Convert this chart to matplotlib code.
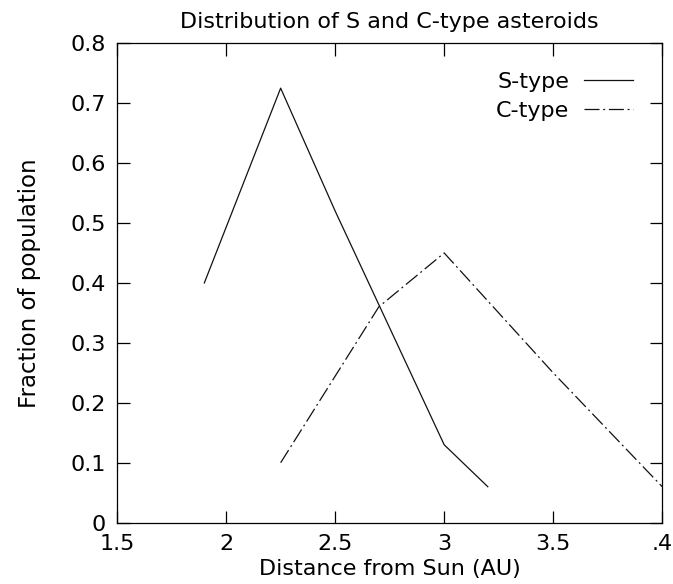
import matplotlib
matplotlib.use('Agg')
import matplotlib.pyplot as plt

# values
s_dist = [1.9, 2.25, 2.5, 3.0, 3.2]
s_frac = [0.40, 0.725, 0.52, 0.13, 0.06]
c_dist = [2.25, 2.7, 3.0, 3.5, 4.0]
c_frac = [0.10, 0.36, 0.45, 0.25, 0.06]

x_ticks = [1.5, 2, 2.5, 3, 3.5, 4]
x_labels = ['1.5', '2', '2.5', '3', '3.5', '.4']
y_ticks = [0, 0.1, 0.2, 0.3, 0.4, 0.5, 0.6, 0.7, 0.8]
y_labels = ['0', '0.1', '0.2', '0.3', '0.4', '0.5', '0.6', '0.7', '0.8']

plt.rcParams['font.family'] = ['DejaVu Sans']
plt.rcParams['font.size'] = 16

fig = plt.figure(figsize=(6.73, 5.84), dpi=100)
ax = fig.add_axes([0.174, 0.105, 0.81, 0.821])

ax.plot(s_dist, s_frac, color='#111111', lw=0.9, label='S-type')
ax.plot(c_dist, c_frac, color='#111111', lw=0.9, label='C-type',
        linestyle=(0, (12, 3, 1.5, 3)))

ax.set_xlim(1.5, 4)
ax.set_ylim(0, 0.8)
ax.set_xticks(x_ticks, x_labels)
ax.set_yticks(y_ticks, y_labels)
ax.tick_params(direction='in', length=9, width=0.9, top=True, right=True,
               labelsize=16, pad=8)
for sp in ax.spines.values():
    sp.set_linewidth(0.9)

ax.set_title('Distribution of S and C-type asteroids', fontsize=16, pad=11)
ax.set_xlabel('Distance from Sun (AU)', fontsize=16, labelpad=4)
ax.set_ylabel('Fraction of population', fontsize=16.5, labelpad=21)

leg = ax.legend(loc='upper right', frameon=False, markerfirst=False,
                handlelength=2.2, fontsize=16, labelspacing=0.4,
                borderaxespad=0.9, handletextpad=0.7)
for t in leg.get_texts():
    t.set_ha('right')

fig.savefig('out.png', dpi=100)
